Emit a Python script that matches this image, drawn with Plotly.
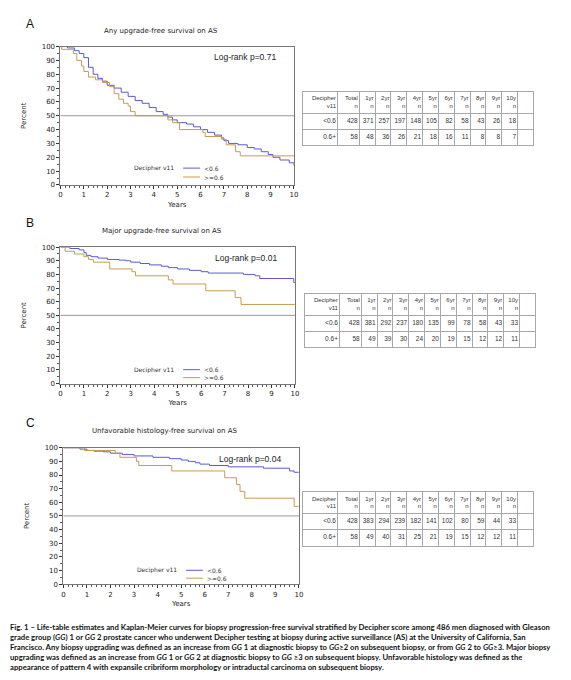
import plotly.graph_objects as go

# page size of the reference (browser body keeps an 8px margin)
W, H = 571, 680
OFF = 8

# ---- KM step data (years, percent) ----
a_lo_t = [0, 0.3, 0.6, 0.8, 1.0, 1.2, 1.4, 1.6, 1.8, 2.0, 2.3, 2.6, 2.9, 3.2, 3.5, 3.8, 4.1, 4.4, 4.6, 4.8,
          5.0, 5.4, 5.7, 6.0, 6.3, 6.6, 6.9, 7.0, 7.2, 7.6, 8.0, 8.3, 8.6, 8.9, 9.1, 9.4, 9.8, 10.0]
a_lo_s = [100, 99, 97, 95, 92, 85, 80, 77, 75, 72, 70, 67, 64, 61, 59, 56, 53, 51, 49, 47,
          45, 44, 42, 40, 38, 36, 34, 32, 30, 29, 27, 26, 24, 22, 20, 18, 16, 14]
a_hi_t = [0, 0.05, 0.55, 0.7, 0.9, 1.0, 1.2, 1.5, 1.8, 2.1, 2.3, 2.5, 2.7, 2.9, 3.0, 3.2, 4.6, 4.8,
          5.1, 6.1, 6.2, 6.9, 7.1, 7.5, 7.7, 10.0]
a_hi_s = [100, 98, 95, 90, 86, 82, 78, 76, 74, 71, 66, 62, 59, 57, 53, 50, 47, 45,
          40, 38, 35, 33, 29, 24, 21, 21]

b_lo_t = [0, 0.4, 0.8, 1.0, 1.1, 1.3, 1.6, 2.0, 2.5, 2.8, 3.0, 3.4, 3.8, 4.3, 4.6, 5.0, 5.5, 6.0, 6.3,
          7.8, 8.3, 8.5, 9.95, 10.0]
b_lo_s = [100, 99, 98, 96, 94, 93, 92, 91, 90.5, 90, 89, 88, 87, 86, 85, 84, 83, 82, 81,
          80, 79, 77, 74, 74]
b_hi_t = [0, 0.2, 0.6, 1.0, 1.2, 1.4, 2.1, 3.05, 3.2, 4.6, 4.8, 6.2, 7.45, 7.7, 10.0]
b_hi_s = [100, 97, 95, 93, 91, 89, 84, 82, 79, 76, 73, 68, 63, 58, 58]

c_lo_t = [0, 0.7, 1.0, 1.3, 1.7, 2.0, 2.5, 3.0, 3.8, 4.5, 5.0, 5.3, 5.6, 5.8, 6.2, 7.0, 8.5, 9.6, 9.8, 10.0]
c_lo_s = [100, 99, 98, 97.5, 97, 96, 95, 94, 93, 92, 91, 90, 89, 88, 87, 86, 85, 83, 82, 82]
c_hi_t = [0, 0.9, 2.2, 2.4, 3.1, 3.2, 4.6, 6.85, 7.35, 7.5, 7.7, 9.8, 10.0]
c_hi_s = [100, 98, 96, 93, 90, 87, 83, 78, 73, 68, 63, 57, 57]

# ---- numbers at risk tables ----
tbl_header = ["Decipher<br>v11", "Total<br>n", "1yr<br>n", "2yr<br>n", "3yr<br>n", "4yr<br>n", "5yr<br>n",
              "6yr<br>n", "7yr<br>n", "8yr<br>n", "9yr<br>n", "10y<br>n"]
groups = ["<0.6", "0.6+"]
a_lo_n = [428, 371, 257, 197, 148, 105, 82, 58, 43, 26, 18]
a_hi_n = [58, 48, 36, 26, 21, 18, 16, 11, 8, 8, 7]
b_lo_n = [428, 381, 292, 237, 180, 135, 99, 78, 58, 43, 33]
b_hi_n = [58, 49, 39, 30, 24, 20, 19, 15, 12, 12, 11]
c_lo_n = [428, 383, 294, 239, 182, 141, 102, 80, 59, 44, 33]
c_hi_n = [58, 49, 40, 31, 25, 21, 19, 15, 12, 12, 11]

titles = ["Any upgrade-free survival on AS", "Major upgrade-free survival on AS",
          "Unfavorable histology-free survival on AS"]
pvals = ["Log-rank p=0.71", "Log-rank p=0.01", "Log-rank p=0.04"]
letters = ["A", "B", "C"]
legend_names = ["<0.6", ">=0.6"]

BLUE = "#5a5ad2"
TAN = "#c99b50"
GRID = "#a8a8a8"
FW, FH = W - OFF, H - OFF

# table geometry in pixels
col_w = [35, 22] + [16] * 11
row_h = [16, 16, 22]          # bottom row, middle row, header (from bottom up)


def px(x):
    return (x - OFF) / FW


def py(y):
    return 1 - (y - OFF) / FH


# pixel boxes of each panel: (left, right, top, bottom) of plot area, table top-left
panels = [
    dict(ax=(59, 295, 43, 183), tb=(304, 89), letter_y=20, title_y=27, leg=(-17, -8)),
    dict(ax=(59, 296, 246, 384), tb=(306, 293), letter_y=222, title_y=230, leg=(-14, -6)),
    dict(ax=(62, 300, 449, 587), tb=(304, 494), letter_y=424, title_y=432, leg=(-14, -6)),
]
curves = [
    (a_lo_t, a_lo_s, a_hi_t, a_hi_s, a_lo_n, a_hi_n),
    (b_lo_t, b_lo_s, b_hi_t, b_hi_s, b_lo_n, b_hi_n),
    (c_lo_t, c_lo_s, c_hi_t, c_hi_s, c_lo_n, c_hi_n),
]

fig = go.Figure()
annos = []
shapes = []
small = dict(family="DejaVu Sans", size=7, color="#222")

xb = [sum(col_w[:j]) for j in range(len(col_w) + 1)]
yb = [sum(row_h[:j]) for j in range(len(row_h) + 1)]
tw, th = xb[-1], yb[-1]

for i, (p, c) in enumerate(zip(panels, curves)):
    k = "" if i == 0 else str(i + 1)
    xa, ya = "x" + k, "y" + k
    l, r, t, b = p["ax"]

    fig.add_trace(go.Scatter(x=c[0], y=c[1], mode="lines", line=dict(color=BLUE, width=1, shape="hv"),
                             name="<0.6", xaxis=xa, yaxis=ya, hoverinfo="skip"))
    fig.add_trace(go.Scatter(x=c[2], y=c[3], mode="lines", line=dict(color=TAN, width=1, shape="hv"),
                             name=">=0.6", xaxis=xa, yaxis=ya, hoverinfo="skip"))

    axis_common = dict(showline=True, linecolor="#777", linewidth=1, mirror=True, ticks="outside",
                       ticklen=3, tickcolor="#333", showgrid=False, zeroline=False,
                       tickfont=small)
    fig.update_layout(**{
        "xaxis" + k: dict(domain=[px(l), px(r)], range=[0, 10], dtick=1, anchor=ya,
                          minor=dict(dtick=0.2, ticks="outside", ticklen=2, tickcolor="#555"),
                          title=dict(text="Years", font=small, standoff=3),
                          **axis_common),
        "yaxis" + k: dict(domain=[py(b), py(t)], range=[0, 100], dtick=10, anchor=xa,
                          minor=dict(dtick=5, ticks="outside", ticklen=2, tickcolor="#555"),
                          title=dict(text="Percent", font=small, standoff=14),
                          **axis_common),
    })

    # 50% reference line
    shapes.append(dict(type="line", xref=xa + " domain", yref=ya, x0=0, x1=1, y0=50, y1=50,
                       line=dict(color="#999", width=1)))

    # legend drawn by hand (SAS style, short samples)
    ly1, ly2 = b + p["leg"][0], b + p["leg"][1]
    annos.append(dict(text="Decipher v11", x=px(l + 95), y=py(ly1), xref="paper", yref="paper",
                      xanchor="center", yanchor="middle", showarrow=False,
                      font=dict(family="DejaVu Sans", size=6, color="#333")))
    for yy, col, nm in [(ly1, BLUE, legend_names[0]), (ly2, TAN, legend_names[1])]:
        shapes.append(dict(type="line", xref="paper", yref="paper", x0=px(l + 124), x1=px(l + 141),
                           y0=py(yy), y1=py(yy), line=dict(color=col, width=1)))
        annos.append(dict(text=nm, x=px(l + 143), y=py(yy), xref="paper", yref="paper",
                          xanchor="left", yanchor="middle", showarrow=False,
                          font=dict(family="DejaVu Sans", size=6, color="#333")))

    annos.append(dict(text=letters[i], x=px(22), y=py(p["letter_y"]), xref="paper", yref="paper",
                      xanchor="left", yanchor="middle", showarrow=False,
                      font=dict(family="Liberation Sans", size=12, color="#111")))
    annos.append(dict(text=titles[i], x=px((l + r) / 2 - 16), y=py(p["title_y"]), xref="paper", yref="paper",
                      xanchor="center", yanchor="middle", showarrow=False, font=small))
    annos.append(dict(text=pvals[i], x=px(r - 16), y=py(t + 11), xref="paper", yref="paper",
                      xanchor="right", yanchor="middle", showarrow=False,
                      font=dict(family="Liberation Sans", size=8.5, color="#222")))

    # number-at-risk table on its own pixel-unit axes
    tk = str(4 + i)
    txa, tya = "x" + tk, "y" + tk
    tl, tt = p["tb"]
    fig.update_layout(**{
        "xaxis" + tk: dict(domain=[px(tl), px(tl + tw)], range=[0, tw], anchor=tya,
                           tickvals=xb[1:-1], showticklabels=False, ticks="",
                           showgrid=True, gridcolor=GRID, gridwidth=1, zeroline=False,
                           showline=True, mirror=True, linecolor=GRID, linewidth=1),
        "yaxis" + tk: dict(domain=[py(tt + th), py(tt)], range=[0, th], anchor=txa,
                           tickvals=yb[1:-1], showticklabels=False, ticks="",
                           showgrid=True, gridcolor=GRID, gridwidth=1, zeroline=False,
                           showline=True, mirror=True, linecolor=GRID, linewidth=1),
    })
    rows = [[groups[1]] + c[5], [groups[0]] + c[4], tbl_header]
    tx, ty, tt_text, tsize = [], [], [], []
    for ri, row in enumerate(rows):
        for j, v in enumerate(row):
            tx.append(xb[j + 1] - 1.5)
            ty.append((yb[ri] + yb[ri + 1]) / 2)
            tt_text.append(str(v))
            tsize.append(6 if ri == 2 else 6.5)
    fig.add_trace(go.Scatter(x=tx, y=ty, text=tt_text, mode="text", textposition="middle left",
                             textfont=dict(family="Liberation Sans", size=tsize, color="#333"),
                             xaxis=txa, yaxis=tya, hoverinfo="skip"))

caption = ("Fig. 1 – Life-table estimates and Kaplan-Meier curves for biopsy progression-free survival stratified by Decipher score among 486 men diagnosed with Gleason<br>"
           "grade group (<i>GG</i>) 1 or <i>GG</i> 2 prostate cancer who underwent Decipher testing at biopsy during active surveillance (AS) at the University of California, San<br>"
           "Francisco. Any biopsy upgrading was defined as an increase from <i>GG</i> 1 at diagnostic biopsy to <i>GG</i>≥2 on subsequent biopsy, or from <i>GG</i> 2 to <i>GG</i>≥3. Major biopsy<br>"
           "upgrading was defined as an increase from <i>GG</i> 1 or <i>GG</i> 2 at diagnostic biopsy to <i>GG</i> ≥3 on subsequent biopsy. Unfavorable histology was defined as the<br>"
           "appearance of pattern 4 with expansile cribriform morphology or intraductal carcinoma on subsequent biopsy.")
annos.append(dict(text="<b>" + caption + "</b>", x=px(6), y=py(623), xref="paper", yref="paper",
                  xanchor="left", yanchor="top", align="left", showarrow=False,
                  font=dict(family="Lato", size=7.7, color="#111")))

fig.update_layout(width=FW, height=FH, margin=dict(l=0, r=0, t=0, b=0),
                  paper_bgcolor="white", plot_bgcolor="white",
                  annotations=annos, shapes=shapes, showlegend=False)

fig.write_html("out.html")
